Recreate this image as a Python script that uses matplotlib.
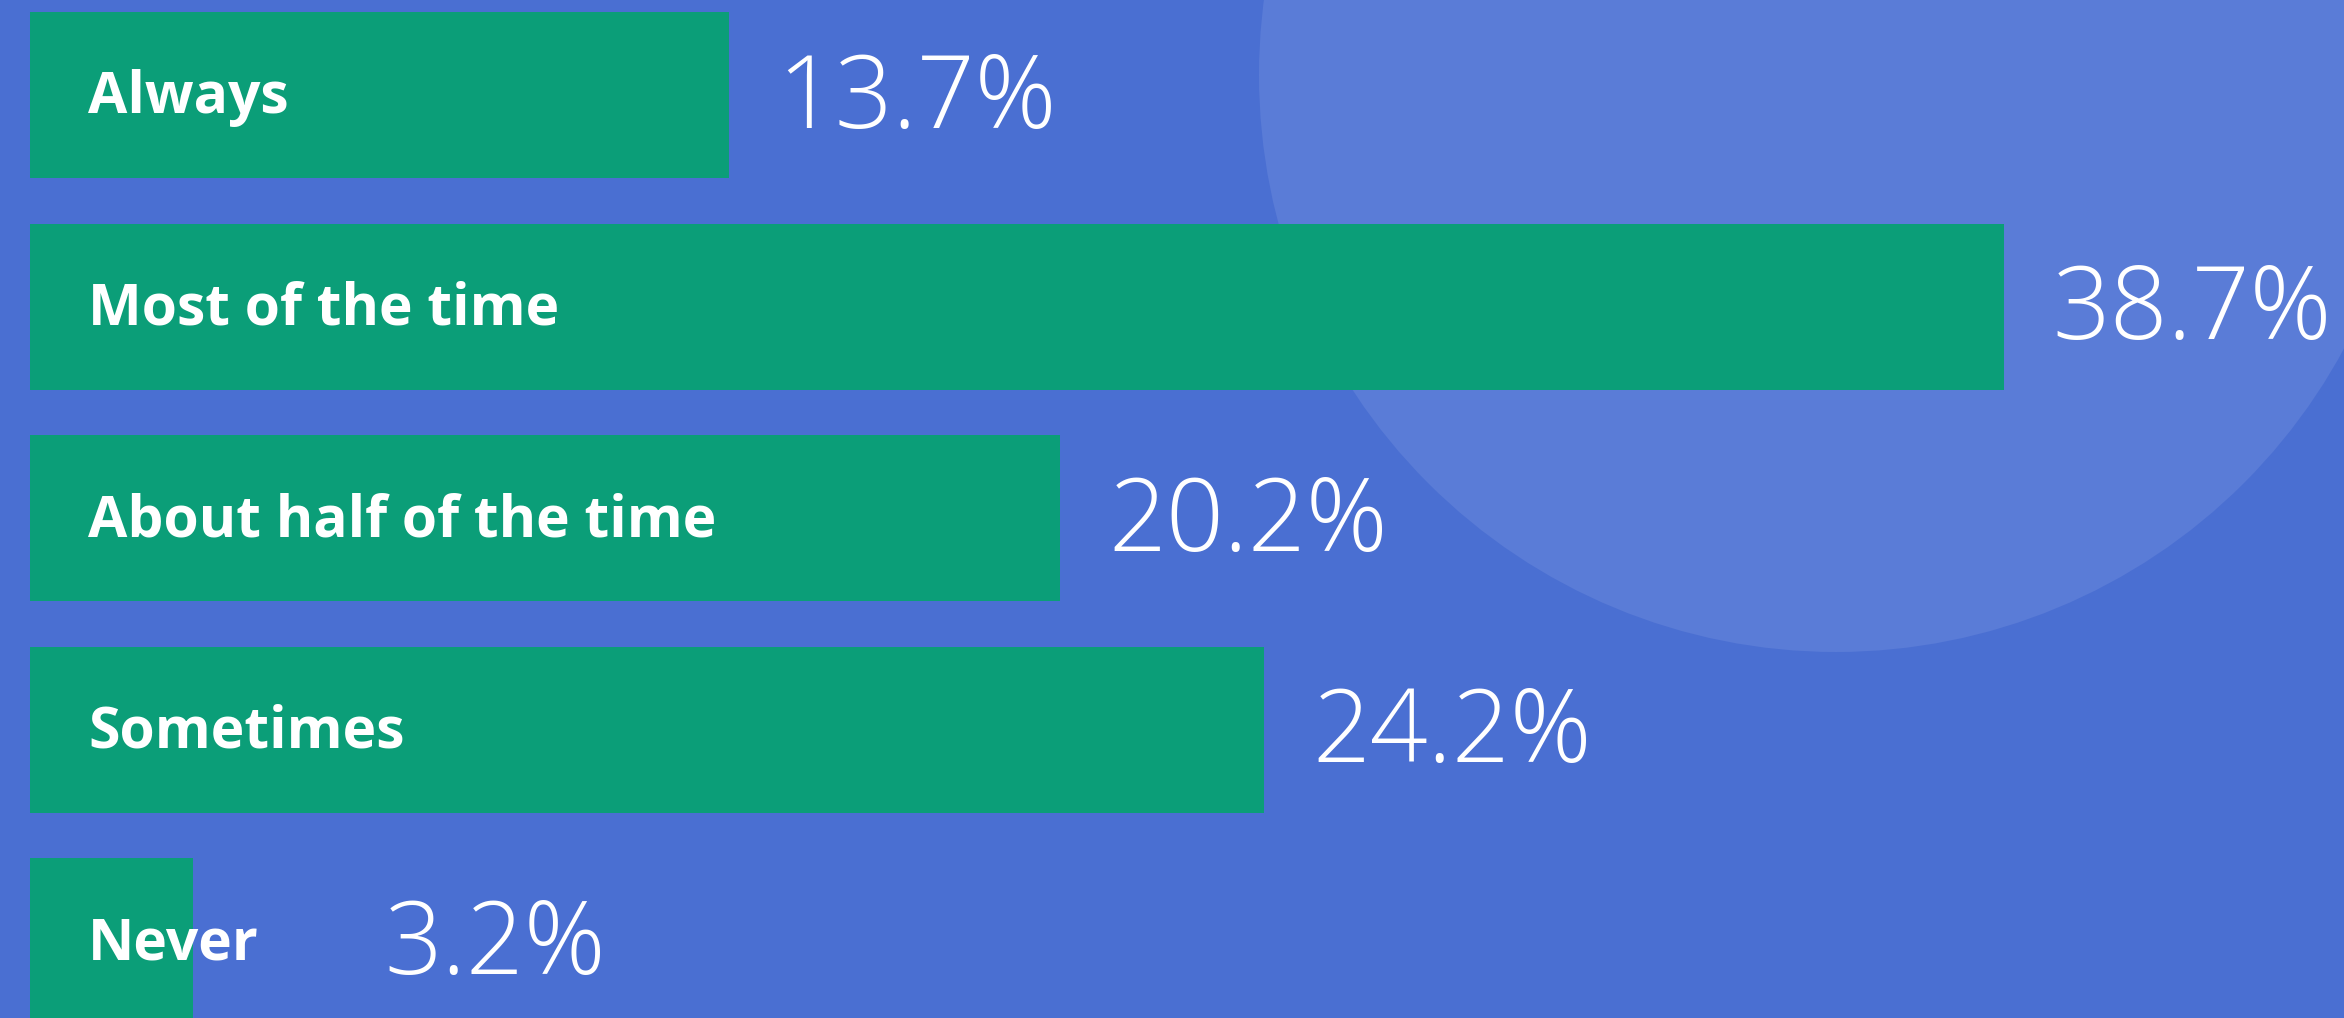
import matplotlib.pyplot as plt
from matplotlib.patches import Ellipse

categories = ['Always', 'Most of the time', 'About half of the time', 'Sometimes', 'Never']
shares = [13.7, 38.7, 20.2, 24.2, 3.2]
value_labels = ['13.7%', '38.7%', '20.2%', '24.2%', '3.2%']

bg = '#4a6fd2'
blob = '#5a7cd7'
green = '#0b9e78'

W, H = 2344, 1018
px_per_unit = 51.0      # horizontal pixels per percent
pitch = 211.5           # vertical pixels between bars
x0_px = 30
y0_px = 95

fig = plt.figure(figsize=(W / 100, H / 100), dpi=100, facecolor=bg)
ax = fig.add_axes([0, 0, 1, 1])
ax.set_facecolor(bg)

ax.set_xlim(-x0_px / px_per_unit, (W - x0_px) / px_per_unit)
ax.set_ylim((H - y0_px) / pitch, -y0_px / pitch)
ax.axis('off')

# decorative light circle in the upper right
cx = (1836 - x0_px) / px_per_unit
cy = (75 - y0_px) / pitch
r = 577
ax.add_patch(Ellipse((cx, cy), 2 * r / px_per_unit, 2 * r / pitch,
                     facecolor=blob, edgecolor='none', zorder=0))

ypos = range(len(categories))
ax.barh(ypos, shares, height=166 / pitch, color=green, zorder=2)

for i, (cat, v, lab) in enumerate(zip(categories, shares, value_labels)):
    ax.text(1.14, i + 0.015, cat, color='white', fontsize=41, fontweight='bold',
            family=['Open Sans', 'DejaVu Sans'], va='center', ha='left', zorder=3)
    ax.text(max(v, 6.0) + 0.95, i + 0.03, lab, color='white', fontsize=73,
            fontweight='light', family=['Open Sans', 'DejaVu Sans'],
            va='center', ha='left', zorder=3)

plt.savefig('out.png', dpi=100, facecolor=bg)
plt.close(fig)
